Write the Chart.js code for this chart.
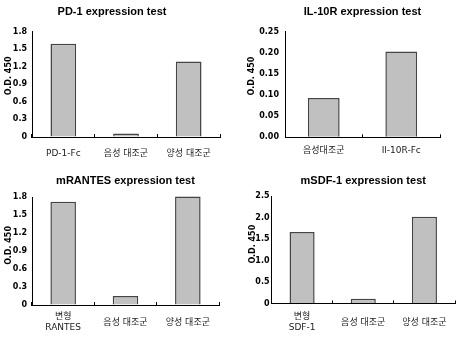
<!DOCTYPE html>
<html>
<head>
<meta charset="utf-8">
<script src="https://cdn.jsdelivr.net/npm/chart.js@4.4.1/dist/chart.umd.min.js"></script>
<style>
html, body { margin: 0; padding: 0; background: #fff; }
body { width: 474px; height: 339px; position: relative; overflow: hidden; }
canvas { position: absolute; }
</style>
</head>
<body>
<canvas id="c1" width="237" height="170" style="left:0px;top:0px"></canvas>
<canvas id="c2" width="237" height="170" style="left:237px;top:0px"></canvas>
<canvas id="c3" width="237" height="169" style="left:0px;top:170px"></canvas>
<canvas id="c4" width="237" height="169" style="left:237px;top:170px"></canvas>
<script>
'use strict';
var pdLabels = ['PD-1-Fc', '음성 대조군', '양성 대조군'];
var pdValues = [1.59, 0.06, 1.29];
var il10Labels = ['음성대조군', 'Il-10R-Fc'];
var il10Values = [0.093, 0.203];
var rantesLabels = [['변형', 'RANTES'], '음성 대조군', '양성 대조군'];
var rantesValues = [1.72, 0.15, 1.81];
var sdfLabels = [['변형', 'SDF-1'], '음성 대조군', '양성 대조군'];
var sdfValues = [1.66, 0.11, 2.02];

var TICK_FONT = 'DejaVu Sans';
var LABEL_FONT = 'DejaVu Sans, "Noto Sans CJK KR", sans-serif';

function makeChart(id, title, labels, values, max, step, dec, g) {
    var ctx = document.getElementById(id).getContext('2d');
    return new Chart(ctx, {
        type: 'bar',
        data: {
            labels: labels,
            datasets: [{
                data: values,
                backgroundColor: '#c0c0c0',
                borderColor: '#444',
                borderWidth: 1.5,
                barPercentage: 0.41,
                categoryPercentage: 1,
                clip: false
            }]
        },
        options: {
            responsive: false,
            animation: false,
            layout: { padding: { left: g.padL, right: g.padR, top: 0, bottom: 0 } },
            plugins: {
                legend: { display: false },
                tooltip: { enabled: false },
                title: {
                    display: true,
                    text: title,
                    color: '#000',
                    fullSize: g.titleFull,
                    font: { family: 'Liberation Sans', size: 11, weight: 'bold', lineHeight: 1.2 },
                    padding: { top: g.titleTop, bottom: g.titleBottom }
                }
            },
            scales: {
                x: {
                    grid: { offset: true, drawOnChartArea: false, drawTicks: true, tickLength: -3, color: '#000' },
                    border: { display: true, color: '#000', width: 1 },
                    ticks: {
                        color: '#222',
                        padding: g.xTickPad,
                        maxRotation: 0,
                        crossAlign: g.cross,
                        font: { family: LABEL_FONT, size: 9, lineHeight: 1.2 }
                    },
                    afterFit: function (s) { s.height = g.xHeight; }
                },
                y: {
                    min: 0,
                    max: max,
                    grid: { drawOnChartArea: false, drawTicks: false },
                    border: { display: true, color: '#000', width: 1 },
                    ticks: {
                        stepSize: step,
                        color: '#000',
                        padding: g.yTickPad,
                        font: { family: TICK_FONT, size: 8, weight: 'bold' },
                        callback: function (v) {
                            if (v === 0 && dec === 1) return '0';
                            return Number(v).toFixed(dec);
                        }
                    },
                    title: {
                        display: true,
                        text: g.yText,
                        color: '#000',
                        font: { family: TICK_FONT, size: 8, weight: 'bold', lineHeight: 1.2 },
                        padding: { top: g.yTitlePad, bottom: 0 }
                    },
                    afterFit: function (s) { s.width = g.yWidth; }
                }
            }
        }
    });
}

makeChart('c1', 'PD-1 expression test', pdLabels, pdValues, 1.8, 0.3, 1, {
    padL: 4, padR: 17, titleFull: true, titleTop: 5, titleBottom: 13.3,
    xHeight: 33, xTickPad: 14, cross: 'near',
    yWidth: 28, yTickPad: 5, yTitlePad: 0, yText: '      O.D. 450'
});
makeChart('c2', 'IL-10R expression test', il10Labels, il10Values, 0.25, 0.05, 2, {
    padL: 0, padR: 34, titleFull: false, titleTop: 5, titleBottom: 13.3,
    xHeight: 32.7, xTickPad: 11, cross: 'near',
    yWidth: 48, yTickPad: 6, yTitlePad: 10, yText: '      O.D. 450'
});
makeChart('c3', 'mRANTES expression test', rantesLabels, rantesValues, 1.8, 0.3, 1, {
    padL: 0, padR: 18, titleFull: false, titleTop: 4, titleBottom: 9.8,
    xHeight: 34, xTickPad: 15, cross: 'center',
    yWidth: 32, yTickPad: 5, yTitlePad: 4, yText: '    O.D. 450'
});
makeChart('c4', 'mSDF-1 expression test', sdfLabels, sdfValues, 2.5, 0.5, 1, {
    padL: 0, padR: 19, titleFull: false, titleTop: 4, titleBottom: 8.8,
    xHeight: 35.5, xTickPad: 16.5, cross: 'center',
    yWidth: 34.5, yTickPad: 2, yTitlePad: 11.4, yText: '    O.D. 450'
});
</script>
</body>
</html>
